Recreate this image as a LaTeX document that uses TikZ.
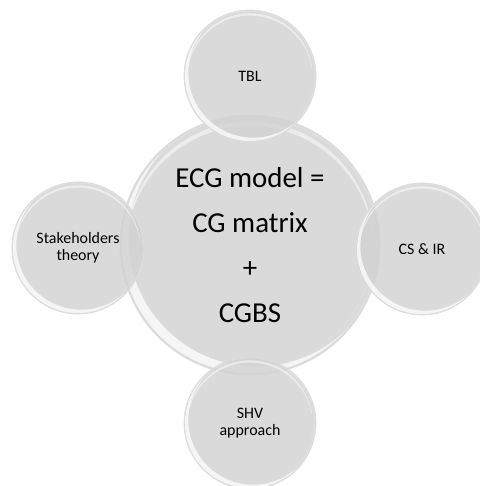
\documentclass[tikz,border=0pt]{standalone}
\usepackage{fontspec}
\setmainfont{Carlito}
\usepackage{tikz}
\usetikzlibrary{positioning,calc}

\definecolor{bubblegray}{RGB}{210,210,210}

\tikzset{
  bubble/.style={circle, draw=black!13, line width=0.8bp, fill=bubblegray,
    fill opacity=0.82, text opacity=1, inner sep=0pt, align=center},
  hub/.style={bubble, minimum size=260bp, font=\fontsize{29}{45}\selectfont},
  sat/.style={bubble, minimum size=132bp, font=\fontsize{16}{17}\selectfont}
}

% glossy rim (lower left) and top glint of a bubble: #1 node, #2 radius
\newcommand{\glare}[2]{%
  \begin{scope}
    \clip (#1.center) circle ({0.985*#2bp});
    \fill[white, opacity=0.75, even odd rule]
      (#1.center) circle ({0.985*#2bp})
      ([shift={(0.05*#2,0.05*#2)}]#1.center) circle ({0.985*#2bp});
  \end{scope}
  \begin{scope}
    \clip (#1.center) circle ({0.95*#2bp});
    \fill[white, opacity=0.5, even odd rule]
      (#1.center) circle ({0.95*#2bp})
      ([shift={(0,-0.035*#2)}]#1.center) circle ({0.95*#2bp});
  \end{scope}
}

\begin{document}
\begin{tikzpicture}[x=1bp, y=1bp]
  \useasboundingbox (0,0) rectangle (480,486);
  \clip (0,0) rectangle (480,486);

  % centre
  \node[hub] (ecg) at (250,241) {ECG model =\\CG matrix\\+\\CGBS};
  \glare{ecg}{130}

  % satellites
  \node[sat] (tbl) at (250,410) {TBL};
  \glare{tbl}{66}
  \node[sat] (stake) at (78,238) {Stakeholders\\theory};
  \glare{stake}{66}
  \node[sat] (csir) at (422,237) {CS \& IR};
  \glare{csir}{66}
  \node[sat] (shv) at (250,63) {SHV\\approach};
  \glare{shv}{66}
\end{tikzpicture}
\end{document}
